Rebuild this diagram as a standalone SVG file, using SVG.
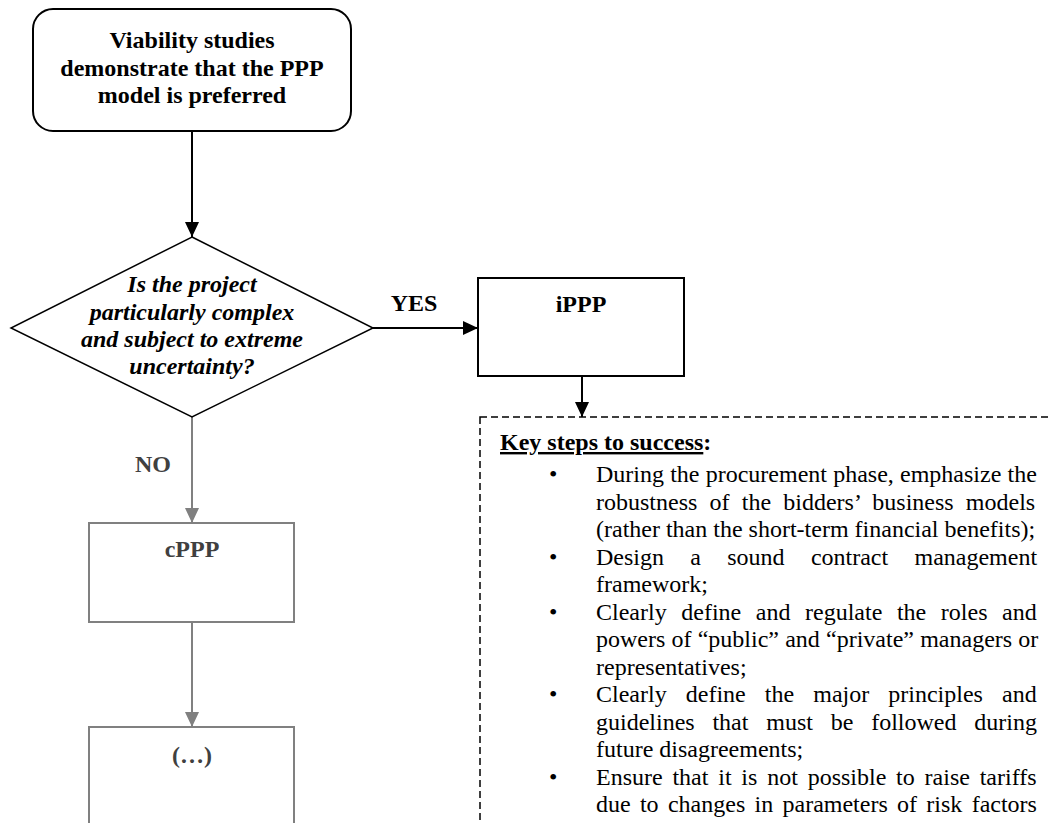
<svg xmlns="http://www.w3.org/2000/svg" width="1049" height="823" viewBox="0 0 1049 823">
<style>
text{font-family:"Liberation Serif","Times New Roman",serif;font-size:24px}
.b{font-weight:bold}
.bi{font-weight:bold;font-style:italic}
.c{text-anchor:middle}
.gt{fill:#404040}
.box{fill:#fff;stroke:#000;stroke-width:2}
.gbox{fill:#fff;stroke:#808080;stroke-width:2}
.ln{stroke:#000;stroke-width:2;fill:none}
.gln{stroke:#808080;stroke-width:2;fill:none}
</style>
<defs>
<marker id="ab" markerUnits="userSpaceOnUse" markerWidth="16" markerHeight="16" viewBox="0 0 16 16" refX="15" refY="8" orient="auto"><path d="M0,1 L15,8 L0,15 Z" fill="#000"/></marker>
<marker id="ag" markerUnits="userSpaceOnUse" markerWidth="16" markerHeight="16" viewBox="0 0 16 16" refX="15" refY="8" orient="auto"><path d="M0,1 L15,8 L0,15 Z" fill="#808080"/></marker>
</defs>
<g id="connectors">
<line class="ln" x1="192" y1="131" x2="192" y2="237" marker-end="url(#ab)"/>
<line class="ln" x1="373" y1="328" x2="478" y2="328" marker-end="url(#ab)"/>
<line class="ln" x1="582" y1="376" x2="582" y2="417" marker-end="url(#ab)"/>
<line class="gln" x1="192" y1="417" x2="192" y2="523" marker-end="url(#ag)"/>
<line class="gln" x1="192" y1="622" x2="192" y2="727" marker-end="url(#ag)"/>
<text class="b c" x="414" y="311">YES</text>
<text class="b c gt" x="153" y="472">NO</text>
</g>
<g id="start">
<rect class="box" x="33" y="9" width="318" height="122" rx="20"/>
<text class="b c" x="192" y="48">Viability studies</text>
<text class="b c" x="192" y="75.5">demonstrate that the PPP</text>
<text class="b c" x="192" y="103">model is preferred</text>
</g>
<g id="decision">
<polygon points="192,237 373,328 192,417 11,328" fill="#fff" stroke="#000" stroke-width="1.5"/>
<text class="bi c" x="192" y="292">Is the project</text>
<text class="bi c" x="192" y="319.5">particularly complex</text>
<text class="bi c" x="192" y="347">and subject to extreme</text>
<text class="bi c" x="192" y="374">uncertainty?</text>
</g>
<g id="ippp">
<rect class="box" x="478" y="278" width="206" height="98"/>
<text class="b c" x="581" y="312">iPPP</text>
</g>
<g id="cppp">
<rect class="gbox" x="89" y="523" width="205" height="99"/>
<text class="b c gt" x="192" y="557">cPPP</text>
</g>
<g id="next">
<rect class="gbox" x="89" y="727" width="205" height="130"/>
<text class="b c gt" x="192" y="763">(…)</text>
</g>
<g id="keysteps">
<rect x="480" y="417" width="620" height="500" fill="none" stroke="#000" stroke-width="1.5" stroke-dasharray="7,4"/>
<text class="b" x="500" y="450"><tspan text-decoration="underline">Key steps to success</tspan>:</text>
<text x="549" y="482">•</text>
<text x="596" y="482" word-spacing="0.2">During the procurement phase, emphasize the</text>
<text x="596" y="509.5" word-spacing="6.2">robustness of the bidders’ business models</text>
<text x="596" y="537">(rather than the short-term financial benefits);</text>
<text x="549" y="564.5">•</text>
<text x="596" y="564.5" word-spacing="20.3">Design a sound contract management</text>
<text x="596" y="592">framework;</text>
<text x="549" y="619.5">•</text>
<text x="596" y="619.5" word-spacing="8.6">Clearly define and regulate the roles and</text>
<text x="596" y="647" word-spacing="0.2">powers of “public” and “private” managers or</text>
<text x="596" y="674.5">representatives;</text>
<text x="549" y="702">•</text>
<text x="596" y="702" word-spacing="13.1">Clearly define the major principles and</text>
<text x="596" y="729.5" word-spacing="11.8">guidelines that must be followed during</text>
<text x="596" y="757">future disagreements;</text>
<text x="549" y="784.5">•</text>
<text x="596" y="784.5" word-spacing="3.8">Ensure that it is not possible to raise tariffs</text>
<text x="596" y="812" word-spacing="3.3">due to changes in parameters of risk factors</text>
</g>
</svg>
